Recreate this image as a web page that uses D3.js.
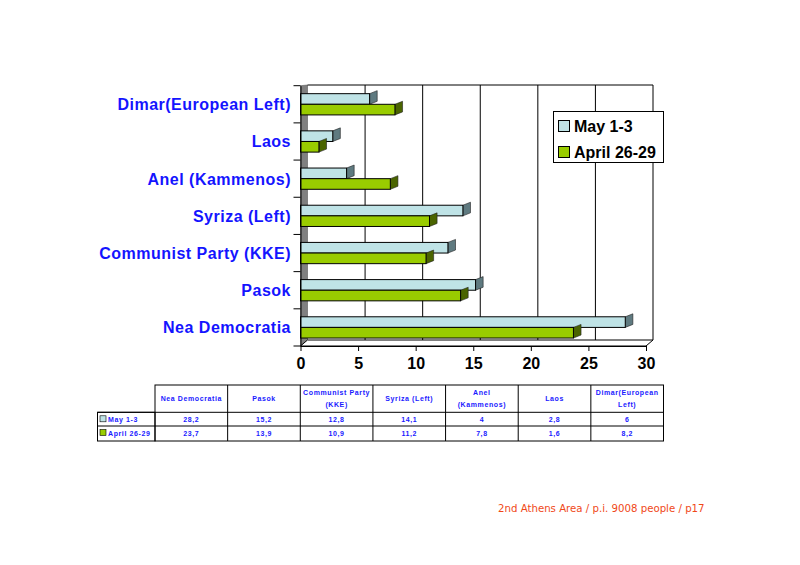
<!DOCTYPE html>
<html>
<head>
<meta charset="utf-8">
<script src="https://cdn.jsdelivr.net/npm/d3@7"></script>
<style>
  body { margin: 0; background: #fff; }
  svg { display: block; font-family: Arial, "Liberation Sans", sans-serif; }
</style>
</head>
<body>
<svg id="chart" width="800" height="565"></svg>
<script>
// data, in table order
const parties = ["Nea Democratia", "Pasok", "Communist Party (KKE)", "Syriza (Left)", "Anel (Kammenos)", "Laos", "Dimar(European Left)"];
const tableHeads = [["Nea Democratia"], ["Pasok"], ["Communist Party", "(KKE)"], ["Syriza (Left)"], ["Anel", "(Kammenos)"], ["Laos"], ["Dimar(European", "Left)"]];
const seriesNames = ["May 1-3", "April 26-29"];
const mayValues = [28.2, 15.2, 12.8, 14.1, 4, 2.8, 6];
const aprilValues = [23.7, 13.9, 10.9, 11.2, 7.8, 1.6, 8.2];
const xTicks = [0, 5, 10, 15, 20, 25, 30];

const colors = { "May 1-3": "#bfe3e6", "April 26-29": "#99cc00" };
const sideColors = { "May 1-3": "#5f7a80", "April 26-29": "#4a6400" };

const svg = d3.select("#chart");
const depth = { dx: 7.6, dy: 3 };
const floor = { dx: 7, dy: 6 };

const x = d3.scaleLinear().domain([0, 30]).range([300.5, 646]);
const y = d3.scaleBand().domain(parties.slice().reverse()).range([85.7, 346]);
const ySub = d3.scaleBand().domain(seriesNames).range([0, y.bandwidth()]).paddingOuter(0.75);

const rows = parties.map((p, i) => ({ party: p, values: [mayValues[i], aprilValues[i]] }));
const yBottom = y.range()[1];

// back wall, floor, grid
const plot = svg.append("g");
plot.append("polygon")
    .attr("points", [[x(0), yBottom], [x(0), 85.7], [x(0) + floor.dx, 85], [x(0) + floor.dx, yBottom - floor.dy]].join(" "))
    .attr("fill", "#808080").attr("stroke", "#444").attr("stroke-width", 0.5);

plot.append("polygon")
    .attr("points", [[x(0), yBottom], [x(0) + floor.dx, yBottom - floor.dy], [x(30) + floor.dx, yBottom - floor.dy], [x(30), yBottom]].join(" "))
    .attr("fill", "#fff").attr("stroke", "#000").attr("stroke-width", 1);

plot.selectAll("line.grid")
    .data(xTicks.slice(1))
    .join("line")
    .attr("class", "grid")
    .attr("x1", d => x(d) + floor.dx).attr("x2", d => x(d) + floor.dx)
    .attr("y1", 85).attr("y2", yBottom - floor.dy)
    .attr("stroke", "#000").attr("stroke-width", 1);

plot.append("line")
    .attr("x1", x(0) + floor.dx).attr("x2", x(30) + floor.dx)
    .attr("y1", 85).attr("y2", 85)
    .attr("stroke", "#000");

// bars
const groups = plot.selectAll("g.party")
    .data(rows)
    .join("g")
    .attr("class", "party")
    .attr("transform", d => `translate(0,${y(d.party)})`);

seriesNames.forEach((s, si) => {
    const h = ySub.bandwidth();
    groups.append("polygon")
        .attr("points", d => {
            const xe = x(d.values[si]), y0 = ySub(s);
            return [[xe, y0], [xe + depth.dx, y0 - depth.dy], [xe + depth.dx, y0 + h - depth.dy], [xe, y0 + h]].join(" ");
        })
        .attr("fill", sideColors[s]).attr("stroke", "#222").attr("stroke-width", 0.6);
    groups.append("rect")
        .attr("x", x(0))
        .attr("y", ySub(s))
        .attr("width", d => x(d.values[si]) - x(0))
        .attr("height", h)
        .attr("fill", colors[s])
        .attr("stroke", "#000").attr("stroke-width", 1);
});

// axes
const yAxis = svg.append("g")
    .attr("transform", `translate(${x(0)},0)`)
    .call(d3.axisLeft(y).tickSize(7).tickFormat("").tickSizeOuter(0));
yAxis.selectAll(".tick").remove();
yAxis.selectAll("line.sep")
    .data(parties.slice().reverse().map(p => y(p)).concat([yBottom]))
    .join("line").attr("class", "sep")
    .attr("x1", -7).attr("x2", 0).attr("y1", d => d).attr("y2", d => d)
    .attr("stroke", "#000");
yAxis.select(".domain").attr("stroke", "#000");

svg.append("g")
    .selectAll("text")
    .data(parties)
    .join("text")
    .attr("x", 291)
    .attr("y", d => y(d) + y.bandwidth() / 2 + 6)
    .attr("text-anchor", "end")
    .attr("font-size", 16).attr("font-weight", "bold")
    .attr("letter-spacing", 0.5)
    .attr("fill", "#1414ff")
    .text(d => d);

const xAxis = svg.append("g")
    .attr("transform", `translate(0,${yBottom})`)
    .call(d3.axisBottom(x).tickValues(xTicks).tickSize(5).tickSizeOuter(0));
xAxis.select(".domain").attr("stroke", "#000");
xAxis.selectAll(".tick text")
    .attr("font-size", 16).attr("font-weight", "bold").attr("fill", "#000")
    .attr("font-family", "Arial, 'Liberation Sans', sans-serif")
    .attr("dy", "0.95em");

// legend
const legend = svg.append("g");
legend.append("rect")
    .attr("x", 553.5).attr("y", 111.5).attr("width", 110).attr("height", 51)
    .attr("fill", "#fff").attr("stroke", "#000");
seriesNames.forEach((s, i) => {
    legend.append("rect")
        .attr("x", 558.5).attr("y", 120.5 + i * 26).attr("width", 11).attr("height", 11)
        .attr("fill", colors[s]).attr("stroke", "#000");
    legend.append("text")
        .attr("x", 574).attr("y", 132 + i * 26)
        .attr("font-size", 16).attr("font-weight", "bold").attr("fill", "#000")
        .text(s);
});

// data table
const colX = d3.scaleBand().domain(parties).range([155, 663.5]);
const table = svg.append("g")
    .attr("font-size", 7).attr("font-weight", "bold").attr("fill", "#1a1aff")
    .attr("letter-spacing", 0.6);
const rowY = [385, 412.3, 426, 441];
table.append("rect").attr("x", 155).attr("y", 385).attr("width", 508.5).attr("height", 56)
    .attr("fill", "none").attr("stroke", "#000");
table.append("rect").attr("x", 97.5).attr("y", 412.3).attr("width", 57.5).attr("height", 28.7)
    .attr("fill", "none").attr("stroke", "#000");
table.selectAll("line.row")
    .data([rowY[1], rowY[2]])
    .join("line").attr("class", "row")
    .attr("x1", 97.5).attr("x2", 663.5).attr("y1", d => d).attr("y2", d => d)
    .attr("stroke", "#000");
table.selectAll("line.col")
    .data(parties.slice(1))
    .join("line").attr("class", "col")
    .attr("x1", d => colX(d)).attr("x2", d => colX(d)).attr("y1", 385).attr("y2", 441)
    .attr("stroke", "#000");

parties.forEach((p, i) => {
    const cx = colX(p) + colX.bandwidth() / 2;
    const lines = tableHeads[i];
    lines.forEach((t, li) => {
        table.append("text")
            .attr("x", cx)
            .attr("y", lines.length === 1 ? 401 : 395 + li * 12)
            .attr("text-anchor", "middle")
            .text(t);
    });
    [mayValues[i], aprilValues[i]].forEach((v, ri) => {
        table.append("text")
            .attr("x", cx)
            .attr("y", rowY[ri + 1] + 9.5)
            .attr("text-anchor", "middle")
            .text(String(v).replace(".", ","));
    });
});
seriesNames.forEach((s, ri) => {
    table.append("rect")
        .attr("x", 100).attr("y", rowY[ri + 1] + 3.5).attr("width", 6).attr("height", 6)
        .attr("fill", colors[s]).attr("stroke", "#000").attr("stroke-width", 0.6);
    table.append("text")
        .attr("x", 108).attr("y", rowY[ri + 1] + 9.5)
        .text(s);
});

// footer
svg.append("text")
    .attr("x", 498).attr("y", 512)
    .attr("font-size", 10.2).attr("fill", "#f04818")
    .attr("font-family", "'DejaVu Sans', Verdana, sans-serif")
    .text("2nd Athens Area / p.i. 9008 people / p17");
</script>
</body>
</html>
